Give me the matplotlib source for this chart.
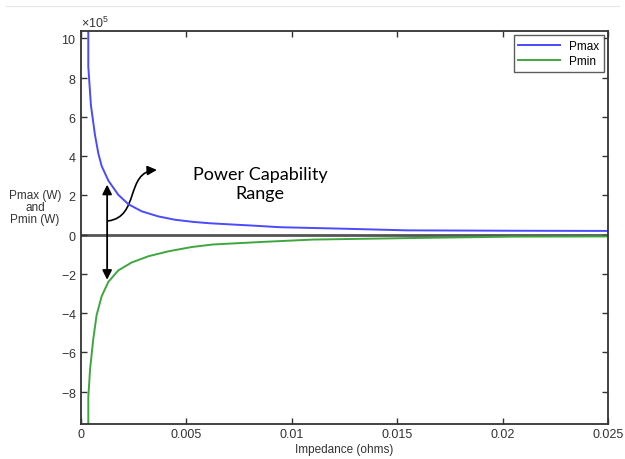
import matplotlib.pyplot as plt
from matplotlib.lines import Line2D
from matplotlib.patches import FancyArrowPatch
from matplotlib.path import Path
from matplotlib.ticker import ScalarFormatter

SCALE = 1e5

# values (in units of 1e5 W)
z_max = [0.000346, 0.000346, 0.00047, 0.00066, 0.00082, 0.00098, 0.0013,
         0.00177, 0.00225, 0.00288, 0.00367, 0.00446, 0.00533, 0.00612,
         0.00817, 0.00944, 0.0126, 0.01545, 0.0205, 0.025]
p_max = [10.4, 8.56, 6.6, 5.1, 4.15, 3.5, 2.75, 2.03, 1.55, 1.19, 0.93,
         0.76, 0.65, 0.58, 0.46, 0.38, 0.3, 0.22, 0.2, 0.19]

z_min = [0.000346, 0.000346, 0.00043, 0.00058, 0.00074, 0.00098, 0.0013,
         0.00177, 0.0024, 0.0032, 0.00414, 0.00525, 0.00626, 0.0086,
         0.011, 0.0158, 0.0205, 0.025]
p_min = [-9.66, -8.3, -6.86, -5.34, -4.1, -3.14, -2.4, -1.82, -1.42,
         -1.1, -0.85, -0.63, -0.5, -0.37, -0.25, -0.17, -0.1, -0.09]

x_ticks = [0, 0.005, 0.01, 0.015, 0.02, 0.025]
x_tick_labels = ["0", "0.005", "0.01", "0.015", "0.02", "0.025"]
y_ticks = [-8, -6, -4, -2, 0, 2, 4, 6, 8, 10]

plt.rcParams["font.family"] = ["Liberation Sans", "DejaVu Sans"]
plt.rcParams["mathtext.fontset"] = "custom"
plt.rcParams["mathtext.rm"] = "Liberation Sans"
plt.rcParams["axes.unicode_minus"] = False

fig = plt.figure(figsize=(6.25, 4.6), dpi=100)
ax = fig.add_axes([0.1296, 0.0761, 0.8432, 0.8543])

ax.plot(z_max, [v * SCALE for v in p_max], color="#4a4aff", lw=1.4, label="Pmax")
ax.plot(z_min, [v * SCALE for v in p_min], color="#3fa63f", lw=1.4, label="Pmin")
ax.axhline(0, color="#555555", lw=2.0, zorder=1)

ax.set_xlim(0, 0.025)
ax.set_ylim(-9.65 * SCALE, 10.38 * SCALE)
ax.set_xticks(x_ticks)
ax.set_xticklabels(x_tick_labels)
ax.set_yticks([v * SCALE for v in y_ticks])

fmt = ScalarFormatter(useMathText=True)
fmt.set_powerlimits((5, 5))
ax.yaxis.set_major_formatter(fmt)
ax.yaxis.get_offset_text().set_fontsize(9)
ax.yaxis.get_offset_text().set_color("#333333")

ax.tick_params(direction="in", top=True, right=True, length=4, width=1,
               labelsize=9, colors="#333333", pad=3)
for s in ax.spines.values():
    s.set_color("#333333")
    s.set_linewidth(1.3)

ax.set_xlabel("Impedance (ohms)", fontsize=8.5, color="#333333", labelpad=2)
fig.text(0.056, 0.548, "Pmax (W)\nand\nPmin (W)", ha="center", va="center",
         fontsize=8.5, color="#333333", linespacing=1.0)

leg = ax.legend(loc="upper right", fontsize=8.5, frameon=True, fancybox=False,
                handlelength=3.5, borderaxespad=0.35, labelspacing=0.3)
leg.get_frame().set_edgecolor("#333333")
leg.get_frame().set_linewidth(1.0)

# double arrow spanning the range
ax.annotate("", xy=(0.00124, 2.55 * SCALE), xytext=(0.00124, -2.3 * SCALE),
            arrowprops=dict(arrowstyle="<|-|>", color="black", lw=1.3,
                            mutation_scale=14, shrinkA=0, shrinkB=0))

# curved pointer towards the label
verts = [(0.00128, 0.7 * SCALE), (0.00280, 0.9 * SCALE),
         (0.00209, 3.2 * SCALE), (0.00360, 3.3 * SCALE)]
curve = FancyArrowPatch(path=Path(verts, [Path.MOVETO, Path.CURVE4, Path.CURVE4, Path.CURVE4]),
                        arrowstyle="-|>", mutation_scale=14, color="black", lw=1.2)
ax.add_patch(curve)

ax.text(0.0085, 2.6 * SCALE, "Power Capability\nRange", ha="center", va="center",
        fontsize=13, family=["Lato", "DejaVu Sans"], linespacing=1.2)

fig.add_artist(Line2D([0.01, 0.99], [0.985, 0.985], color="#e6e6e6", lw=0.8))

fig.savefig("out.png", dpi=100)
